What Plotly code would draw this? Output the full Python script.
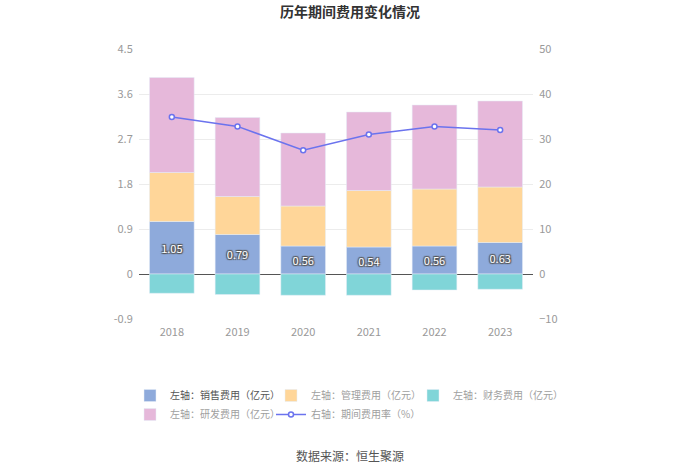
import plotly.graph_objects as go

years = ["2018", "2019", "2020", "2021", "2022", "2023"]
sales = [1.05, 0.79, 0.56, 0.54, 0.56, 0.63]
admin = [0.98, 0.76, 0.80, 1.13, 1.14, 1.11]
finance = [-0.385, -0.41, -0.425, -0.425, -0.32, -0.305]
rnd = [1.90, 1.58, 1.46, 1.57, 1.68, 1.72]
rate = [34.9, 32.8, 27.5, 31.0, 32.8, 32.0]

left_ticks = [-0.9, 0, 0.9, 1.8, 2.7, 3.6, 4.5]
left_ticktext = ["-0.9", "0", "0.9", "1.8", "2.7", "3.6", "4.5"]
right_ticks = [-10, 0, 10, 20, 30, 40, 50]

FONT = "Noto Sans CJK SC"
dark = "#555555"
light = "#a0a0a0"

def nm(s, c):
    return f'<span style="color:{c}">{s}</span>'

fig = go.Figure()
fig.add_bar(x=years, y=sales, name=nm("左轴：销售费用（亿元）", dark),
            marker_color="#8eaadb", legend="legend",
            text=[f"{v:.2f}" for v in sales], textposition="inside",
            insidetextanchor="middle", constraintext="none",
            textfont=dict(color="white", size=11, family=FONT,
                          shadow="1px 1px 1px #555, -1px -1px 1px #555, 1px -1px 1px #555, -1px 1px 1px #555"))
fig.add_bar(x=years, y=admin, name=nm("左轴：管理费用（亿元）", light),
            marker_color="#ffd699", legend="legend2")
fig.add_bar(x=years, y=finance, name=nm("左轴：财务费用（亿元）", light),
            marker_color="#80d5d8", legend="legend3")
fig.add_bar(x=years, y=rnd, name=nm("左轴：研发费用（亿元）", light),
            marker_color="#e6b8da", legend="legend")
fig.add_scatter(x=years, y=rate, name=nm("右轴：期间费用率（%）", light), yaxis="y2",
                mode="lines+markers", legend="legend2",
                line=dict(color="#6b73ee", width=1.5),
                marker=dict(size=5, color="white", line=dict(color="#6b73ee", width=1.5)))

def leg(xpx):
    return dict(orientation="v", x=(xpx - 139) / 394, xanchor="left",
                y=-0.2296, yanchor="top", traceorder="normal",
                font=dict(size=10, family=FONT), itemclick=False,
                bgcolor="rgba(0,0,0,0)")

fig.update_layout(
    width=700, height=473,
    margin=dict(l=139, r=167, t=49, b=154, autoexpand=False),
    paper_bgcolor="white", plot_bgcolor="white",
    barmode="relative", bargap=0.32,
    font=dict(family=FONT, size=11, color="#999999"),
    title=dict(text="<b>历年期间费用变化情况</b>", x=0.5, xanchor="center",
               y=0.975, yanchor="middle",
               font=dict(family=FONT, size=14, color="#333333")),
    xaxis=dict(type="category", showgrid=False, showline=False,
               ticks="outside", ticklen=3, tickcolor="rgba(0,0,0,0)",
               tickfont=dict(size=11, color="#999999")),
    yaxis=dict(range=[-0.9, 4.5], tickvals=left_ticks, ticktext=left_ticktext,
               showgrid=True, gridcolor="#ececec", gridwidth=1,
               zeroline=True, zerolinecolor="#555555", zerolinewidth=1,
               ticks="outside", ticklen=3, tickcolor="rgba(0,0,0,0)",
               tickfont=dict(size=11, color="#999999")),
    yaxis2=dict(range=[-10, 50], tickvals=right_ticks, overlaying="y", side="right",
                showgrid=False, zeroline=False,
                ticks="outside", ticklen=3, tickcolor="rgba(0,0,0,0)",
                tickfont=dict(size=11, color="#999999")),
    legend=leg(130), legend2=leg(271), legend3=leg(413),
    showlegend=True,
    annotations=[dict(text="数据来源：恒生聚源", xref="paper", yref="paper",
                      x=(350 - 139) / 394, y=-0.507, xanchor="center", yanchor="middle",
                      showarrow=False, font=dict(size=12, color="#555555", family=FONT))],
)

fig.write_html("out.html", config={"displayModeBar": False},
               post_script="document.body.style.margin='0';document.body.style.overflow='hidden';")
